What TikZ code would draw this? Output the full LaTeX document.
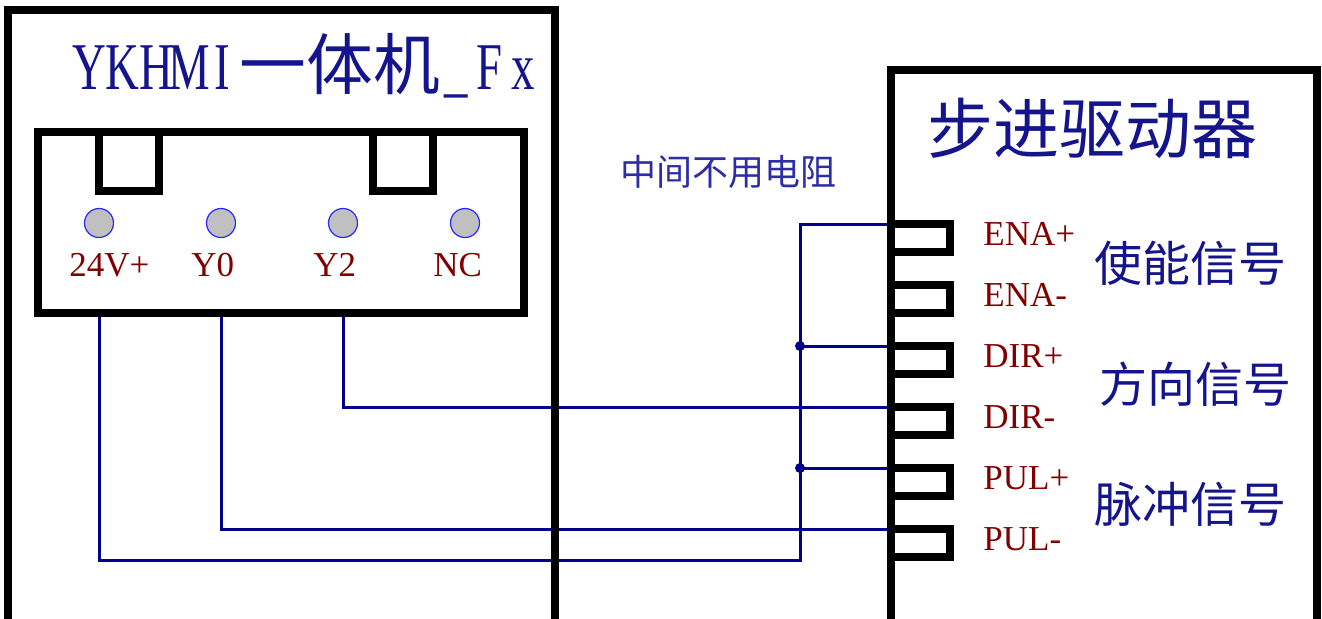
\documentclass[tikz,border=0pt]{standalone}
\usepackage{fontspec}
\setmainfont{Liberation Serif}
\newfontfamily\cjk{Noto Sans CJK SC}
\newfontfamily\titlelat[FakeStretch=0.7]{Liberation Serif}
\usetikzlibrary{positioning,calc}
\definecolor{wireblue}{RGB}{0,0,140}
\definecolor{txtblue}{RGB}{20,20,140}
\definecolor{noteblue}{RGB}{45,45,165}
\definecolor{pinred}{RGB}{128,0,0}
\definecolor{termfill}{RGB}{192,192,192}
\definecolor{termedge}{RGB}{40,40,255}
\newcommand{\halfw}[1]{\makebox[16.7pt]{#1}}
\pgfdeclarelayer{background}
\pgfsetlayers{background,main}
\tikzset{>=latex}

\begin{document}
\begin{tikzpicture}[x=0.5pt, y=-0.5pt,
  box/.style={draw=black, line width=4pt},
  plug/.style={draw=black, line width=4pt, minimum width=243pt, minimum height=90.5pt, inner sep=0pt},
  term/.style={circle, draw=termedge, fill=termfill, line width=0.6pt, minimum size=14.5pt, inner sep=0pt},
  pin/.style={rectangle, draw=black, line width=4pt, minimum width=29.5pt, minimum height=14pt, inner sep=0pt, outer sep=0pt},
  lbl/.style={text=pinred, font=\fontsize{17.5}{20}\selectfont, inner sep=0pt, anchor=base west},
  sig/.style={text=txtblue, font=\cjk\fontsize{24}{28}\selectfont, inner sep=0pt},
  wire/.style={draw=wireblue, line width=1.5pt},
  dot/.style={circle, fill=wireblue, minimum size=5pt, inner sep=0pt},
  node distance=61pt, on grid]
	\useasboundingbox (0,0) rectangle (1322,618);

	% HMI side
	\draw[box] (7.5,9.5) rectangle (555,640);
	\node[anchor=base west, inner sep=0pt, text=txtblue] (hmi) at (72,89) {\fontsize{33.4}{40}\selectfont{\titlelat\halfw{Y}\halfw{K}\halfw{H}\halfw{M}\halfw{I}}{\cjk 一体机}{\titlelat\halfw{\_}\halfw{F}\halfw{x}}};
	\node[plug] (plug) at (281,222.5) {};
	\draw[box] (98.5,132) |- (159,191) -- (159,132);
	\draw[box] (373,132) |- (432.5,191) -- (432.5,132);

	\node[term] (t24) at (99,223) {};
	\node[term] (ty0) [right=of t24] {};
	\node[term] (ty2) [right=of ty0] {};
	\node[term] (tnc) [right=of ty2] {};
	\node[lbl] (l24) at ($(t24)+(-30,53)$) {24V+};
	\node[lbl] (ly0) at ($(ty0)+(-30,53)$) {Y0};
	\node[lbl] (ly2) at ($(ty2)+(-30,53)$) {Y2};
	\node[lbl] (lnc) at ($(tnc)+(-32,53)$) {NC};

	% driver side
	\draw[box] (891,69.5) rectangle (1317,640);
	\node[text=txtblue, font=\cjk\fontsize{33}{40}\selectfont, inner sep=0pt] (drv) at (1092,128) {步进驱动器};

	\node[pin] (enap) at (920.5,238) {};
	\node[pin] (enam) [below=30.5pt of enap] {};
	\node[pin] (dirp) [below=30.5pt of enam] {};
	\node[pin] (dirm) [below=30.5pt of dirp] {};
	\node[pin] (pulp) [below=30.5pt of dirm] {};
	\node[pin] (pulm) [below=30.5pt of pulp] {};
	\node[lbl] (lenap) at ($(enap)+(62.5,7)$) {ENA+};
	\node[lbl] (lenam) at ($(enam)+(62.5,7)$) {ENA-};
	\node[lbl] (ldirp) at ($(dirp)+(62.5,7)$) {DIR+};
	\node[lbl] (ldirm) at ($(dirm)+(62.5,7)$) {DIR-};
	\node[lbl] (lpulp) at ($(pulp)+(62.5,7)$) {PUL+};
	\node[lbl] (lpulm) at ($(pulm)+(62.5,7)$) {PUL-};

	\node[sig] (sena) at (1190,263) {使能信号};
	\node[sig] (sdir) at (1195,384) {方向信号};
	\node[sig] (spul) at (1190,504) {脉冲信号};

	\node[text=noteblue, font=\cjk\fontsize{18}{22}\selectfont, inner sep=0pt] (note) at (728,172) {中间不用电阻};

	% wiring
	\coordinate (bus) at (800,560);
	\begin{pgfonlayer}{background}
		\draw[wire] (enap.north west) -| (bus) -| (t24 |- plug.south);
		\draw[wire] (bus |- dirp.north) -- (dirp.north west);
		\draw[wire] (bus |- pulp.north) -- (pulp.north west);
		\draw[wire] (ty2 |- plug.south) |- (dirm.north west);
		\draw[wire] (ty0 |- plug.south) |- (pulm.north west);
	\end{pgfonlayer}
	\node[dot] (j1) at (bus |- dirp.north) {};
	\node[dot] (j2) at (bus |- pulp.north) {};
\end{tikzpicture}
\end{document}
